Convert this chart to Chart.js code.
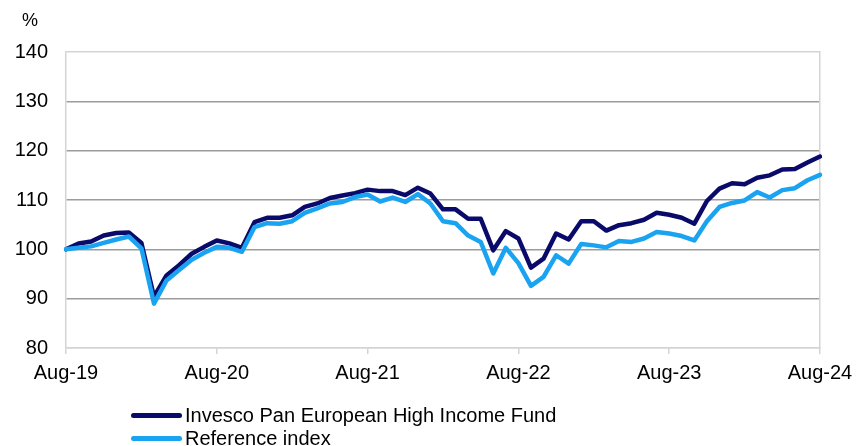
<!DOCTYPE html>
<html>
<head>
<meta charset="utf-8">
<script src="https://cdn.jsdelivr.net/npm/chart.js@4.4.1/dist/chart.umd.min.js"></script>
<style>
  html, body { margin: 0; padding: 0; background: #fff; }
  #wrap { position: relative; width: 856px; height: 446px; overflow: hidden; font-family: "Liberation Sans", Arial, sans-serif; }
  #c { position: absolute; left: 0; top: 0; }
  .pct { position: absolute; left: 22px; top: 10px; font-size: 18px; color: #000; }
  .leg { position: absolute; left: 131px; height: 24px; display: flex; align-items: center; font-size: 20px; color: #000; white-space: nowrap; }
  .leg .sw { width: 51px; height: 5px; border-radius: 3px; margin-right: 3px; }
</style>
</head>
<body>
<div id="wrap">
  <canvas id="c" width="856" height="446"></canvas>
  <div class="pct">%</div>
  <div class="leg" id="leg0" style="top:403px;"><span class="sw"></span><span class="tx"></span></div>
  <div class="leg" id="leg1" style="top:426px;"><span class="sw"></span><span class="tx"></span></div>
</div>
<script>
const months = ["Aug-19","Sep-19","Oct-19","Nov-19","Dec-19","Jan-20","Feb-20","Mar-20","Apr-20","May-20","Jun-20","Jul-20",
  "Aug-20","Sep-20","Oct-20","Nov-20","Dec-20","Jan-21","Feb-21","Mar-21","Apr-21","May-21","Jun-21","Jul-21",
  "Aug-21","Sep-21","Oct-21","Nov-21","Dec-21","Jan-22","Feb-22","Mar-22","Apr-22","May-22","Jun-22","Jul-22",
  "Aug-22","Sep-22","Oct-22","Nov-22","Dec-22","Jan-23","Feb-23","Mar-23","Apr-23","May-23","Jun-23","Jul-23",
  "Aug-23","Sep-23","Oct-23","Nov-23","Dec-23","Jan-24","Feb-24","Mar-24","Apr-24","May-24","Jun-24","Jul-24",
  "Aug-24"];
const tickLabels = ["Aug-19","Aug-20","Aug-21","Aug-22","Aug-23","Aug-24"];
const fundName = "Invesco Pan European High Income Fund";
const refName = "Reference index";
const fundValues = [100.0,101.2,101.6,102.8,103.3,103.4,101.3,90.4,94.7,96.8,99.1,100.5,
  101.8,101.2,100.3,105.5,106.4,106.4,106.9,108.6,109.3,110.4,110.9,111.4,
  112.1,111.8,111.8,111.0,112.5,111.3,108.1,108.1,106.2,106.2,99.8,103.7,
  102.2,96.3,98.1,103.2,102.0,105.7,105.7,103.8,104.9,105.3,106.0,107.4,
  107.0,106.4,105.2,109.8,112.3,113.4,113.2,114.5,115.0,116.2,116.3,117.6,
  118.8];
const refValues = [100.0,100.3,100.6,101.3,102.0,102.6,100.2,89.0,93.7,95.8,97.9,99.3,
  100.5,100.3,99.5,104.5,105.3,105.2,105.7,107.4,108.3,109.3,109.6,110.6,
  111.1,109.7,110.5,109.6,111.2,109.3,105.7,105.3,102.8,101.5,95.1,100.3,
  97.2,92.6,94.4,98.8,97.1,101.1,100.8,100.4,101.7,101.5,102.2,103.5,
  103.2,102.7,101.8,105.7,108.6,109.4,109.9,111.6,110.5,112.0,112.4,114.0,
  115.1];
const yTicks = [80, 90, 100, 110, 120, 130, 140];

const fundColor = "#0a0a6a";
const refColor = "#1aa3f0";

document.querySelector("#leg0 .sw").style.background = fundColor;
document.querySelector("#leg0 .tx").textContent = fundName;
document.querySelector("#leg1 .sw").style.background = refColor;
document.querySelector("#leg1 .tx").textContent = refName;

const font = { family: "'Liberation Sans', Arial, sans-serif", size: 20 };

new Chart(document.getElementById("c"), {
  type: "line",
  data: {
    labels: months,
    datasets: [
      { label: fundName, data: fundValues, borderColor: fundColor, borderWidth: 4.5, pointRadius: 0, tension: 0, borderJoinStyle: "round", borderCapStyle: "round", order: 1 },
      { label: refName, data: refValues, borderColor: refColor, borderWidth: 4.5, pointRadius: 0, tension: 0, borderJoinStyle: "round", borderCapStyle: "round", order: 0 }
    ]
  },
  options: {
    responsive: false,
    animation: false,
    layout: { padding: { left: 14, right: 36, top: 52, bottom: 60 } },
    plugins: { legend: { display: false }, tooltip: { enabled: false } },
    scales: {
      x: {
        type: "category",
        offset: false,
        border: { display: true, color: "#d4d4d4", width: 1.5 },
        grid: {
          drawOnChartArea: false, drawTicks: true, tickLength: 6,
          color: "#d4d4d4", lineWidth: 1.5
        },
        afterFit: axis => { axis.height = 38; axis.paddingLeft = 0; axis.paddingRight = 0; },
        ticks: {
          autoSkip: false, maxRotation: 0, minRotation: 0, padding: 7,
          color: "#000", font: font,
          callback: function(v, i) { const l = months[i]; return tickLabels.includes(l) ? l : null; }
        }
      },
      y: {
        min: 80, max: 140,
        border: { display: true, color: "#d4d4d4", width: 1.5 },
        grid: {
          drawTicks: false,
          color: ctx => (ctx.tick && (ctx.tick.value === 140 || ctx.tick.value === 80)) ? "#d4d4d4" : "#9c9c9c",
          lineWidth: 1.5
        },
        afterBuildTicks: axis => { axis.ticks = yTicks.map(v => ({ value: v })); },
        afterFit: axis => { axis.width = 52; },
        ticks: { padding: 18, color: "#000", font: font }
      },
      yR: {
        position: "right", min: 80, max: 140,
        border: { display: true, color: "#d4d4d4", width: 1.5 },
        grid: { drawOnChartArea: false, drawTicks: false },
        ticks: { display: false },
        afterFit: axis => { axis.width = 0; }
      }
    }
  }
});
</script>
</body>
</html>
